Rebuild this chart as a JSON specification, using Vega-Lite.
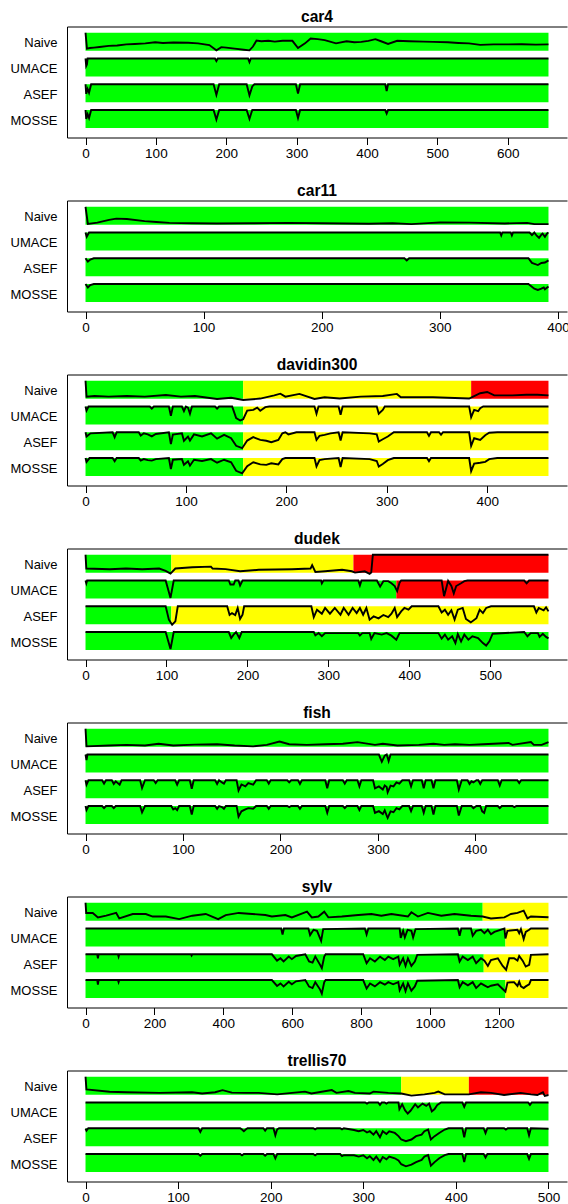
{
"$schema":"https://vega.github.io/schema/vega-lite/v6.json",
"padding":{"left":10,"top":9.5,"right":0,"bottom":0},
"spacing":23,
"config":{"font":"Liberation Sans","view":{"stroke":null},
"axis":{"grid":false,"domainColor":"black","tickColor":"black","labelColor":"black","labelFont":"Liberation Sans","minExtent":0,"labelFlush":false,"labelOverlap":false},
"axisX":{"format":"d"},
"title":{"fontSize":15.6,"fontWeight":"bold","font":"Liberation Sans","offset":0.5,"baseline":"alphabetic","color":"black","anchor":"middle","frame":"group"}},
"datasets":{
"bands":[
{"s":"car4","t":"Naive","a":0,"b":658,"c":"good"},{"s":"car4","t":"UMACE","a":0,"b":658,"c":"good"},{"s":"car4","t":"ASEF","a":0,"b":658,"c":"good"},{"s":"car4","t":"MOSSE","a":0,"b":658,"c":"good"},
{"s":"car11","t":"Naive","a":0,"b":392,"c":"good"},{"s":"car11","t":"UMACE","a":0,"b":392,"c":"good"},{"s":"car11","t":"ASEF","a":0,"b":392,"c":"good"},{"s":"car11","t":"MOSSE","a":0,"b":392,"c":"good"},
{"s":"davidin300","t":"Naive","a":0,"b":157,"c":"good"},{"s":"davidin300","t":"Naive","a":157,"b":384,"c":"fair"},{"s":"davidin300","t":"Naive","a":384,"b":461,"c":"fail"},
{"s":"davidin300","t":"UMACE","a":0,"b":157,"c":"good"},{"s":"davidin300","t":"UMACE","a":157,"b":461,"c":"fair"},
{"s":"davidin300","t":"ASEF","a":0,"b":157,"c":"good"},{"s":"davidin300","t":"ASEF","a":157,"b":461,"c":"fair"},
{"s":"davidin300","t":"MOSSE","a":0,"b":157,"c":"good"},{"s":"davidin300","t":"MOSSE","a":157,"b":461,"c":"fair"},
{"s":"dudek","t":"Naive","a":0,"b":106,"c":"good"},{"s":"dudek","t":"Naive","a":106,"b":331,"c":"fair"},{"s":"dudek","t":"Naive","a":331,"b":572,"c":"fail"},
{"s":"dudek","t":"UMACE","a":0,"b":384,"c":"good"},{"s":"dudek","t":"UMACE","a":384,"b":572,"c":"fail"},
{"s":"dudek","t":"ASEF","a":0,"b":106,"c":"good"},{"s":"dudek","t":"ASEF","a":106,"b":572,"c":"fair"},
{"s":"dudek","t":"MOSSE","a":0,"b":572,"c":"good"},
{"s":"fish","t":"Naive","a":0,"b":475,"c":"good"},{"s":"fish","t":"UMACE","a":0,"b":475,"c":"good"},{"s":"fish","t":"ASEF","a":0,"b":475,"c":"good"},{"s":"fish","t":"MOSSE","a":0,"b":475,"c":"good"},
{"s":"sylv","t":"Naive","a":0,"b":1153,"c":"good"},{"s":"sylv","t":"Naive","a":1153,"b":1344,"c":"fair"},
{"s":"sylv","t":"UMACE","a":0,"b":1219,"c":"good"},{"s":"sylv","t":"UMACE","a":1219,"b":1344,"c":"fair"},
{"s":"sylv","t":"ASEF","a":0,"b":1156,"c":"good"},{"s":"sylv","t":"ASEF","a":1156,"b":1344,"c":"fair"},
{"s":"sylv","t":"MOSSE","a":0,"b":1219,"c":"good"},{"s":"sylv","t":"MOSSE","a":1219,"b":1344,"c":"fair"},
{"s":"trellis70","t":"Naive","a":0,"b":341,"c":"good"},{"s":"trellis70","t":"Naive","a":341,"b":414,"c":"fair"},{"s":"trellis70","t":"Naive","a":414,"b":500,"c":"fail"},
{"s":"trellis70","t":"UMACE","a":0,"b":500,"c":"good"},{"s":"trellis70","t":"ASEF","a":0,"b":500,"c":"good"},{"s":"trellis70","t":"MOSSE","a":0,"b":500,"c":"good"}
],
"car4":[
{"t":"Naive","f":0,"v":1},{"t":"Naive","f":2,"v":0.25},{"t":"Naive","f":6,"v":0.28},{"t":"Naive","f":12,"v":0.3},{"t":"Naive","f":20,"v":0.33},{"t":"Naive","f":33,"v":0.38},{"t":"Naive","f":45,"v":0.4},{"t":"Naive","f":58,"v":0.45},{"t":"Naive","f":70,"v":0.47},{"t":"Naive","f":85,"v":0.5},{"t":"Naive","f":99,"v":0.55},{"t":"Naive","f":110,"v":0.52},{"t":"Naive","f":125,"v":0.54},{"t":"Naive","f":146,"v":0.53},{"t":"Naive","f":160,"v":0.5},{"t":"Naive","f":176,"v":0.42},{"t":"Naive","f":186,"v":0.17},{"t":"Naive","f":193,"v":0.32},{"t":"Naive","f":200,"v":0.3},{"t":"Naive","f":212,"v":0.25},{"t":"Naive","f":225,"v":0.2},{"t":"Naive","f":233,"v":0.17},{"t":"Naive","f":238,"v":0.35},{"t":"Naive","f":243,"v":0.63},{"t":"Naive","f":250,"v":0.6},{"t":"Naive","f":260,"v":0.62},{"t":"Naive","f":269,"v":0.58},{"t":"Naive","f":280,"v":0.62},{"t":"Naive","f":294,"v":0.62},{"t":"Naive","f":302,"v":0.28},{"t":"Naive","f":312,"v":0.5},{"t":"Naive","f":320,"v":0.73},{"t":"Naive","f":330,"v":0.7},{"t":"Naive","f":340,"v":0.65},{"t":"Naive","f":356,"v":0.5},{"t":"Naive","f":371,"v":0.6},{"t":"Naive","f":382,"v":0.55},{"t":"Naive","f":392,"v":0.57},{"t":"Naive","f":402,"v":0.62},{"t":"Naive","f":412,"v":0.7},{"t":"Naive","f":420,"v":0.6},{"t":"Naive","f":430,"v":0.47},{"t":"Naive","f":443,"v":0.62},{"t":"Naive","f":460,"v":0.6},{"t":"Naive","f":480,"v":0.58},{"t":"Naive","f":494,"v":0.57},{"t":"Naive","f":515,"v":0.55},{"t":"Naive","f":530,"v":0.52},{"t":"Naive","f":545,"v":0.5},{"t":"Naive","f":561,"v":0.43},{"t":"Naive","f":580,"v":0.45},{"t":"Naive","f":597,"v":0.45},{"t":"Naive","f":620,"v":0.46},{"t":"Naive","f":640,"v":0.44},{"t":"Naive","f":658,"v":0.45},
{"t":"UMACE","f":0,"v":1},{"t":"UMACE","f":1,"v":0.65},{"t":"UMACE","f":2,"v":0.72},{"t":"UMACE","f":3,"v":1},{"t":"UMACE","f":184,"v":1},{"t":"UMACE","f":186,"v":0.88},{"t":"UMACE","f":188,"v":1},{"t":"UMACE","f":231,"v":1},{"t":"UMACE","f":233,"v":0.83},{"t":"UMACE","f":235,"v":1},{"t":"UMACE","f":658,"v":1},
{"t":"ASEF","f":0,"v":1},{"t":"ASEF","f":1,"v":0.55},{"t":"ASEF","f":3,"v":0.78},{"t":"ASEF","f":5,"v":0.6},{"t":"ASEF","f":8,"v":1},{"t":"ASEF","f":182,"v":1},{"t":"ASEF","f":186,"v":0.5},{"t":"ASEF","f":190,"v":1},{"t":"ASEF","f":229,"v":1},{"t":"ASEF","f":233,"v":0.48},{"t":"ASEF","f":237,"v":0.9},{"t":"ASEF","f":240,"v":1},{"t":"ASEF","f":299,"v":1},{"t":"ASEF","f":302,"v":0.56},{"t":"ASEF","f":305,"v":1},{"t":"ASEF","f":426,"v":1},{"t":"ASEF","f":428,"v":0.68},{"t":"ASEF","f":430,"v":1},{"t":"ASEF","f":658,"v":1},
{"t":"MOSSE","f":0,"v":1},{"t":"MOSSE","f":1,"v":0.58},{"t":"MOSSE","f":3,"v":0.8},{"t":"MOSSE","f":5,"v":0.62},{"t":"MOSSE","f":8,"v":1},{"t":"MOSSE","f":182,"v":1},{"t":"MOSSE","f":186,"v":0.55},{"t":"MOSSE","f":190,"v":1},{"t":"MOSSE","f":229,"v":1},{"t":"MOSSE","f":233,"v":0.58},{"t":"MOSSE","f":237,"v":1},{"t":"MOSSE","f":299,"v":1},{"t":"MOSSE","f":302,"v":0.62},{"t":"MOSSE","f":305,"v":1},{"t":"MOSSE","f":426,"v":1},{"t":"MOSSE","f":428,"v":0.84},{"t":"MOSSE","f":430,"v":1},{"t":"MOSSE","f":658,"v":1}
],
"car11":[
{"t":"Naive","f":0,"v":1},{"t":"Naive","f":2,"v":0.19},{"t":"Naive","f":10,"v":0.25},{"t":"Naive","f":20,"v":0.38},{"t":"Naive","f":26,"v":0.44},{"t":"Naive","f":35,"v":0.42},{"t":"Naive","f":50,"v":0.32},{"t":"Naive","f":60,"v":0.28},{"t":"Naive","f":71,"v":0.24},{"t":"Naive","f":90,"v":0.22},{"t":"Naive","f":111,"v":0.21},{"t":"Naive","f":140,"v":0.22},{"t":"Naive","f":172,"v":0.24},{"t":"Naive","f":200,"v":0.22},{"t":"Naive","f":240,"v":0.2},{"t":"Naive","f":260,"v":0.22},{"t":"Naive","f":276,"v":0.18},{"t":"Naive","f":290,"v":0.23},{"t":"Naive","f":300,"v":0.26},{"t":"Naive","f":325,"v":0.25},{"t":"Naive","f":355,"v":0.21},{"t":"Naive","f":365,"v":0.23},{"t":"Naive","f":374,"v":0.24},{"t":"Naive","f":380,"v":0.18},{"t":"Naive","f":392,"v":0.18},
{"t":"UMACE","f":0,"v":1},{"t":"UMACE","f":1,"v":0.8},{"t":"UMACE","f":3,"v":1},{"t":"UMACE","f":351,"v":1},{"t":"UMACE","f":352,"v":0.86},{"t":"UMACE","f":353,"v":1},{"t":"UMACE","f":360,"v":1},{"t":"UMACE","f":361,"v":0.86},{"t":"UMACE","f":362,"v":1},{"t":"UMACE","f":376,"v":1},{"t":"UMACE","f":378,"v":0.88},{"t":"UMACE","f":380,"v":1},{"t":"UMACE","f":382,"v":0.85},{"t":"UMACE","f":384,"v":0.75},{"t":"UMACE","f":386,"v":0.9},{"t":"UMACE","f":387,"v":0.95},{"t":"UMACE","f":389,"v":0.8},{"t":"UMACE","f":391,"v":0.97},{"t":"UMACE","f":392,"v":1},
{"t":"ASEF","f":0,"v":1},{"t":"ASEF","f":2,"v":0.84},{"t":"ASEF","f":4,"v":0.94},{"t":"ASEF","f":7,"v":1},{"t":"ASEF","f":270,"v":1},{"t":"ASEF","f":272,"v":0.9},{"t":"ASEF","f":274,"v":1},{"t":"ASEF","f":375,"v":1},{"t":"ASEF","f":378,"v":0.78},{"t":"ASEF","f":383,"v":0.68},{"t":"ASEF","f":386,"v":0.78},{"t":"ASEF","f":389,"v":0.8},{"t":"ASEF","f":392,"v":0.9},
{"t":"MOSSE","f":0,"v":1},{"t":"MOSSE","f":2,"v":0.84},{"t":"MOSSE","f":4,"v":0.95},{"t":"MOSSE","f":7,"v":1},{"t":"MOSSE","f":375,"v":1},{"t":"MOSSE","f":380,"v":0.78},{"t":"MOSSE","f":383,"v":0.72},{"t":"MOSSE","f":386,"v":0.78},{"t":"MOSSE","f":388,"v":0.84},{"t":"MOSSE","f":389,"v":0.75},{"t":"MOSSE","f":392,"v":0.88}
],
"davidin300":[
{"t":"Naive","f":0,"v":1},{"t":"Naive","f":1,"v":0.25},{"t":"Naive","f":9,"v":0.28},{"t":"Naive","f":23,"v":0.25},{"t":"Naive","f":41,"v":0.28},{"t":"Naive","f":59,"v":0.25},{"t":"Naive","f":80,"v":0.33},{"t":"Naive","f":95,"v":0.25},{"t":"Naive","f":109,"v":0.28},{"t":"Naive","f":131,"v":0.14},{"t":"Naive","f":145,"v":0.2},{"t":"Naive","f":157,"v":0.09},{"t":"Naive","f":174,"v":0.16},{"t":"Naive","f":188,"v":0.31},{"t":"Naive","f":194,"v":0.39},{"t":"Naive","f":199,"v":0.25},{"t":"Naive","f":213,"v":0.38},{"t":"Naive","f":228,"v":0.14},{"t":"Naive","f":238,"v":0.22},{"t":"Naive","f":253,"v":0.16},{"t":"Naive","f":274,"v":0.25},{"t":"Naive","f":296,"v":0.28},{"t":"Naive","f":310,"v":0.38},{"t":"Naive","f":314,"v":0.22},{"t":"Naive","f":346,"v":0.22},{"t":"Naive","f":382,"v":0.16},{"t":"Naive","f":386,"v":0.25},{"t":"Naive","f":393,"v":0.41},{"t":"Naive","f":400,"v":0.47},{"t":"Naive","f":407,"v":0.31},{"t":"Naive","f":425,"v":0.31},{"t":"Naive","f":439,"v":0.34},{"t":"Naive","f":450,"v":0.34},{"t":"Naive","f":461,"v":0.31},
{"t":"UMACE","f":0,"v":1},{"t":"UMACE","f":1,"v":0.81},{"t":"UMACE","f":3,"v":1},{"t":"UMACE","f":64,"v":1},{"t":"UMACE","f":66,"v":0.9},{"t":"UMACE","f":68,"v":1},{"t":"UMACE","f":83,"v":1},{"t":"UMACE","f":85,"v":0.56},{"t":"UMACE","f":87,"v":1},{"t":"UMACE","f":96,"v":1},{"t":"UMACE","f":98,"v":0.78},{"t":"UMACE","f":100,"v":1},{"t":"UMACE","f":102,"v":0.95},{"t":"UMACE","f":104,"v":0.66},{"t":"UMACE","f":106,"v":1},{"t":"UMACE","f":129,"v":1},{"t":"UMACE","f":131,"v":0.9},{"t":"UMACE","f":133,"v":1},{"t":"UMACE","f":146,"v":1},{"t":"UMACE","f":150,"v":0.45},{"t":"UMACE","f":154,"v":0.34},{"t":"UMACE","f":157,"v":0.4},{"t":"UMACE","f":161,"v":0.81},{"t":"UMACE","f":167,"v":0.84},{"t":"UMACE","f":171,"v":0.95},{"t":"UMACE","f":174,"v":0.8},{"t":"UMACE","f":179,"v":0.97},{"t":"UMACE","f":183,"v":1},{"t":"UMACE","f":228,"v":1},{"t":"UMACE","f":230,"v":0.66},{"t":"UMACE","f":232,"v":1},{"t":"UMACE","f":252,"v":1},{"t":"UMACE","f":254,"v":0.61},{"t":"UMACE","f":256,"v":1},{"t":"UMACE","f":290,"v":1},{"t":"UMACE","f":292,"v":0.66},{"t":"UMACE","f":296,"v":0.84},{"t":"UMACE","f":298,"v":1},{"t":"UMACE","f":382,"v":1},{"t":"UMACE","f":384,"v":0.5},{"t":"UMACE","f":387,"v":0.84},{"t":"UMACE","f":391,"v":0.78},{"t":"UMACE","f":393,"v":0.92},{"t":"UMACE","f":396,"v":1},{"t":"UMACE","f":461,"v":1},
{"t":"ASEF","f":0,"v":1},{"t":"ASEF","f":1,"v":0.8},{"t":"ASEF","f":5,"v":0.95},{"t":"ASEF","f":27,"v":1},{"t":"ASEF","f":29,"v":0.77},{"t":"ASEF","f":31,"v":1},{"t":"ASEF","f":53,"v":1},{"t":"ASEF","f":55,"v":0.84},{"t":"ASEF","f":58,"v":0.95},{"t":"ASEF","f":62,"v":0.9},{"t":"ASEF","f":66,"v":0.81},{"t":"ASEF","f":70,"v":0.92},{"t":"ASEF","f":83,"v":1},{"t":"ASEF","f":85,"v":0.44},{"t":"ASEF","f":87,"v":0.89},{"t":"ASEF","f":96,"v":0.95},{"t":"ASEF","f":98,"v":0.6},{"t":"ASEF","f":102,"v":0.8},{"t":"ASEF","f":104,"v":0.61},{"t":"ASEF","f":108,"v":0.9},{"t":"ASEF","f":116,"v":0.8},{"t":"ASEF","f":125,"v":0.95},{"t":"ASEF","f":131,"v":0.7},{"t":"ASEF","f":138,"v":0.88},{"t":"ASEF","f":145,"v":0.72},{"t":"ASEF","f":150,"v":0.36},{"t":"ASEF","f":156,"v":0.25},{"t":"ASEF","f":161,"v":0.61},{"t":"ASEF","f":167,"v":0.77},{"t":"ASEF","f":174,"v":0.64},{"t":"ASEF","f":180,"v":0.6},{"t":"ASEF","f":185,"v":0.53},{"t":"ASEF","f":192,"v":0.64},{"t":"ASEF","f":196,"v":0.95},{"t":"ASEF","f":199,"v":1},{"t":"ASEF","f":202,"v":0.9},{"t":"ASEF","f":210,"v":1},{"t":"ASEF","f":228,"v":1},{"t":"ASEF","f":230,"v":0.64},{"t":"ASEF","f":233,"v":0.83},{"t":"ASEF","f":238,"v":0.88},{"t":"ASEF","f":244,"v":0.95},{"t":"ASEF","f":252,"v":1},{"t":"ASEF","f":254,"v":0.61},{"t":"ASEF","f":256,"v":1},{"t":"ASEF","f":283,"v":0.95},{"t":"ASEF","f":290,"v":0.9},{"t":"ASEF","f":292,"v":0.56},{"t":"ASEF","f":296,"v":0.67},{"t":"ASEF","f":301,"v":0.8},{"t":"ASEF","f":307,"v":1},{"t":"ASEF","f":340,"v":1},{"t":"ASEF","f":342,"v":0.83},{"t":"ASEF","f":344,"v":1},{"t":"ASEF","f":352,"v":1},{"t":"ASEF","f":354,"v":0.88},{"t":"ASEF","f":356,"v":1},{"t":"ASEF","f":382,"v":1},{"t":"ASEF","f":384,"v":0.36},{"t":"ASEF","f":387,"v":0.72},{"t":"ASEF","f":393,"v":0.64},{"t":"ASEF","f":398,"v":0.86},{"t":"ASEF","f":402,"v":0.98},{"t":"ASEF","f":410,"v":1},{"t":"ASEF","f":461,"v":1},
{"t":"MOSSE","f":0,"v":1},{"t":"MOSSE","f":1,"v":0.82},{"t":"MOSSE","f":4,"v":1},{"t":"MOSSE","f":27,"v":1},{"t":"MOSSE","f":29,"v":0.85},{"t":"MOSSE","f":31,"v":1},{"t":"MOSSE","f":53,"v":1},{"t":"MOSSE","f":55,"v":0.88},{"t":"MOSSE","f":58,"v":0.95},{"t":"MOSSE","f":62,"v":0.9},{"t":"MOSSE","f":66,"v":0.88},{"t":"MOSSE","f":70,"v":0.95},{"t":"MOSSE","f":83,"v":1},{"t":"MOSSE","f":85,"v":0.48},{"t":"MOSSE","f":87,"v":0.92},{"t":"MOSSE","f":96,"v":0.95},{"t":"MOSSE","f":98,"v":0.68},{"t":"MOSSE","f":102,"v":0.85},{"t":"MOSSE","f":104,"v":0.64},{"t":"MOSSE","f":108,"v":0.92},{"t":"MOSSE","f":116,"v":0.86},{"t":"MOSSE","f":125,"v":0.95},{"t":"MOSSE","f":131,"v":0.78},{"t":"MOSSE","f":138,"v":0.92},{"t":"MOSSE","f":145,"v":0.8},{"t":"MOSSE","f":150,"v":0.4},{"t":"MOSSE","f":156,"v":0.28},{"t":"MOSSE","f":161,"v":0.62},{"t":"MOSSE","f":167,"v":0.8},{"t":"MOSSE","f":174,"v":0.7},{"t":"MOSSE","f":180,"v":0.68},{"t":"MOSSE","f":185,"v":0.75},{"t":"MOSSE","f":192,"v":0.7},{"t":"MOSSE","f":196,"v":0.95},{"t":"MOSSE","f":199,"v":1},{"t":"MOSSE","f":228,"v":1},{"t":"MOSSE","f":230,"v":0.6},{"t":"MOSSE","f":233,"v":0.9},{"t":"MOSSE","f":238,"v":0.95},{"t":"MOSSE","f":252,"v":1},{"t":"MOSSE","f":254,"v":0.58},{"t":"MOSSE","f":256,"v":1},{"t":"MOSSE","f":283,"v":0.95},{"t":"MOSSE","f":290,"v":0.86},{"t":"MOSSE","f":292,"v":0.6},{"t":"MOSSE","f":296,"v":0.72},{"t":"MOSSE","f":301,"v":0.9},{"t":"MOSSE","f":307,"v":1},{"t":"MOSSE","f":340,"v":1},{"t":"MOSSE","f":342,"v":0.85},{"t":"MOSSE","f":344,"v":1},{"t":"MOSSE","f":382,"v":1},{"t":"MOSSE","f":384,"v":0.38},{"t":"MOSSE","f":387,"v":0.74},{"t":"MOSSE","f":393,"v":0.78},{"t":"MOSSE","f":398,"v":0.82},{"t":"MOSSE","f":402,"v":0.95},{"t":"MOSSE","f":410,"v":1},{"t":"MOSSE","f":461,"v":1}
],
"dudek":[
{"t":"Naive","f":0,"v":1},{"t":"Naive","f":1,"v":0.35},{"t":"Naive","f":30,"v":0.32},{"t":"Naive","f":50,"v":0.35},{"t":"Naive","f":70,"v":0.32},{"t":"Naive","f":91,"v":0.35},{"t":"Naive","f":99,"v":0.24},{"t":"Naive","f":105,"v":0.11},{"t":"Naive","f":111,"v":0.35},{"t":"Naive","f":132,"v":0.41},{"t":"Naive","f":155,"v":0.44},{"t":"Naive","f":157,"v":0.35},{"t":"Naive","f":173,"v":0.32},{"t":"Naive","f":191,"v":0.22},{"t":"Naive","f":214,"v":0.29},{"t":"Naive","f":255,"v":0.32},{"t":"Naive","f":278,"v":0.35},{"t":"Naive","f":280,"v":0.51},{"t":"Naive","f":284,"v":0.19},{"t":"Naive","f":296,"v":0.22},{"t":"Naive","f":317,"v":0.29},{"t":"Naive","f":329,"v":0.22},{"t":"Naive","f":333,"v":0.16},{"t":"Naive","f":345,"v":0.22},{"t":"Naive","f":351,"v":0.1},{"t":"Naive","f":353,"v":0.16},{"t":"Naive","f":355,"v":1},{"t":"Naive","f":572,"v":1},
{"t":"UMACE","f":0,"v":1},{"t":"UMACE","f":1,"v":0.87},{"t":"UMACE","f":2,"v":1},{"t":"UMACE","f":99,"v":1},{"t":"UMACE","f":105,"v":0.18},{"t":"UMACE","f":109,"v":1},{"t":"UMACE","f":177,"v":1},{"t":"UMACE","f":179,"v":0.81},{"t":"UMACE","f":183,"v":0.81},{"t":"UMACE","f":185,"v":1},{"t":"UMACE","f":189,"v":1},{"t":"UMACE","f":191,"v":0.77},{"t":"UMACE","f":194,"v":1},{"t":"UMACE","f":291,"v":1},{"t":"UMACE","f":292,"v":0.87},{"t":"UMACE","f":294,"v":1},{"t":"UMACE","f":337,"v":1},{"t":"UMACE","f":339,"v":0.77},{"t":"UMACE","f":341,"v":1},{"t":"UMACE","f":360,"v":1},{"t":"UMACE","f":364,"v":0.71},{"t":"UMACE","f":368,"v":0.97},{"t":"UMACE","f":374,"v":0.97},{"t":"UMACE","f":378,"v":0.87},{"t":"UMACE","f":382,"v":0.74},{"t":"UMACE","f":385,"v":0.5},{"t":"UMACE","f":388,"v":0.9},{"t":"UMACE","f":390,"v":1},{"t":"UMACE","f":440,"v":1},{"t":"UMACE","f":443,"v":0.26},{"t":"UMACE","f":448,"v":0.98},{"t":"UMACE","f":452,"v":0.74},{"t":"UMACE","f":455,"v":0.39},{"t":"UMACE","f":458,"v":0.74},{"t":"UMACE","f":464,"v":0.87},{"t":"UMACE","f":468,"v":0.97},{"t":"UMACE","f":472,"v":1},{"t":"UMACE","f":542,"v":1},{"t":"UMACE","f":545,"v":0.87},{"t":"UMACE","f":548,"v":1},{"t":"UMACE","f":572,"v":1},
{"t":"ASEF","f":0,"v":1},{"t":"ASEF","f":99,"v":1},{"t":"ASEF","f":103,"v":0.37},{"t":"ASEF","f":107,"v":0.13},{"t":"ASEF","f":111,"v":0.29},{"t":"ASEF","f":114,"v":1},{"t":"ASEF","f":175,"v":1},{"t":"ASEF","f":178,"v":0.59},{"t":"ASEF","f":181,"v":0.68},{"t":"ASEF","f":185,"v":0.59},{"t":"ASEF","f":188,"v":0.92},{"t":"ASEF","f":191,"v":0.4},{"t":"ASEF","f":194,"v":0.6},{"t":"ASEF","f":196,"v":1},{"t":"ASEF","f":279,"v":1},{"t":"ASEF","f":282,"v":0.49},{"t":"ASEF","f":286,"v":0.84},{"t":"ASEF","f":292,"v":0.65},{"t":"ASEF","f":296,"v":0.92},{"t":"ASEF","f":302,"v":0.65},{"t":"ASEF","f":308,"v":0.92},{"t":"ASEF","f":315,"v":0.6},{"t":"ASEF","f":319,"v":0.92},{"t":"ASEF","f":325,"v":0.6},{"t":"ASEF","f":330,"v":0.92},{"t":"ASEF","f":335,"v":0.68},{"t":"ASEF","f":339,"v":0.92},{"t":"ASEF","f":343,"v":0.6},{"t":"ASEF","f":347,"v":0.92},{"t":"ASEF","f":351,"v":0.37},{"t":"ASEF","f":356,"v":0.52},{"t":"ASEF","f":362,"v":0.43},{"t":"ASEF","f":368,"v":0.59},{"t":"ASEF","f":374,"v":0.49},{"t":"ASEF","f":378,"v":0.65},{"t":"ASEF","f":382,"v":0.92},{"t":"ASEF","f":385,"v":0.49},{"t":"ASEF","f":390,"v":0.76},{"t":"ASEF","f":394,"v":0.92},{"t":"ASEF","f":399,"v":0.84},{"t":"ASEF","f":403,"v":1},{"t":"ASEF","f":436,"v":1},{"t":"ASEF","f":440,"v":0.71},{"t":"ASEF","f":444,"v":0.84},{"t":"ASEF","f":448,"v":0.6},{"t":"ASEF","f":452,"v":0.81},{"t":"ASEF","f":456,"v":0.37},{"t":"ASEF","f":460,"v":0.84},{"t":"ASEF","f":466,"v":0.92},{"t":"ASEF","f":470,"v":0.4},{"t":"ASEF","f":476,"v":0.24},{"t":"ASEF","f":483,"v":0.44},{"t":"ASEF","f":487,"v":0.84},{"t":"ASEF","f":491,"v":0.68},{"t":"ASEF","f":495,"v":0.92},{"t":"ASEF","f":501,"v":1},{"t":"ASEF","f":554,"v":1},{"t":"ASEF","f":557,"v":0.71},{"t":"ASEF","f":560,"v":0.92},{"t":"ASEF","f":566,"v":0.81},{"t":"ASEF","f":569,"v":0.95},{"t":"ASEF","f":572,"v":0.76},
{"t":"MOSSE","f":0,"v":1},{"t":"MOSSE","f":99,"v":1},{"t":"MOSSE","f":105,"v":0.2},{"t":"MOSSE","f":109,"v":1},{"t":"MOSSE","f":177,"v":1},{"t":"MOSSE","f":180,"v":0.72},{"t":"MOSSE","f":183,"v":0.88},{"t":"MOSSE","f":186,"v":1},{"t":"MOSSE","f":190,"v":0.72},{"t":"MOSSE","f":193,"v":1},{"t":"MOSSE","f":282,"v":1},{"t":"MOSSE","f":284,"v":0.84},{"t":"MOSSE","f":288,"v":0.95},{"t":"MOSSE","f":292,"v":0.8},{"t":"MOSSE","f":296,"v":0.95},{"t":"MOSSE","f":337,"v":0.95},{"t":"MOSSE","f":339,"v":0.84},{"t":"MOSSE","f":342,"v":0.95},{"t":"MOSSE","f":351,"v":0.95},{"t":"MOSSE","f":353,"v":0.67},{"t":"MOSSE","f":357,"v":0.95},{"t":"MOSSE","f":366,"v":0.88},{"t":"MOSSE","f":372,"v":0.95},{"t":"MOSSE","f":378,"v":0.83},{"t":"MOSSE","f":384,"v":0.64},{"t":"MOSSE","f":388,"v":0.95},{"t":"MOSSE","f":436,"v":0.95},{"t":"MOSSE","f":440,"v":0.69},{"t":"MOSSE","f":444,"v":0.88},{"t":"MOSSE","f":448,"v":0.64},{"t":"MOSSE","f":453,"v":0.8},{"t":"MOSSE","f":457,"v":0.48},{"t":"MOSSE","f":460,"v":0.9},{"t":"MOSSE","f":464,"v":0.56},{"t":"MOSSE","f":468,"v":0.88},{"t":"MOSSE","f":473,"v":0.64},{"t":"MOSSE","f":478,"v":0.8},{"t":"MOSSE","f":485,"v":0.72},{"t":"MOSSE","f":491,"v":0.48},{"t":"MOSSE","f":495,"v":0.36},{"t":"MOSSE","f":499,"v":0.56},{"t":"MOSSE","f":503,"v":0.92},{"t":"MOSSE","f":542,"v":1},{"t":"MOSSE","f":546,"v":0.8},{"t":"MOSSE","f":550,"v":0.95},{"t":"MOSSE","f":559,"v":0.95},{"t":"MOSSE","f":561,"v":0.77},{"t":"MOSSE","f":565,"v":0.92},{"t":"MOSSE","f":569,"v":0.77},{"t":"MOSSE","f":572,"v":0.7}
],
"fish":[
{"t":"Naive","f":0,"v":1},{"t":"Naive","f":1,"v":0.17},{"t":"Naive","f":24,"v":0.21},{"t":"Naive","f":42,"v":0.24},{"t":"Naive","f":61,"v":0.21},{"t":"Naive","f":75,"v":0.29},{"t":"Naive","f":90,"v":0.21},{"t":"Naive","f":112,"v":0.25},{"t":"Naive","f":135,"v":0.27},{"t":"Naive","f":153,"v":0.21},{"t":"Naive","f":172,"v":0.17},{"t":"Naive","f":186,"v":0.24},{"t":"Naive","f":199,"v":0.4},{"t":"Naive","f":209,"v":0.27},{"t":"Naive","f":227,"v":0.24},{"t":"Naive","f":246,"v":0.27},{"t":"Naive","f":264,"v":0.29},{"t":"Naive","f":279,"v":0.37},{"t":"Naive","f":297,"v":0.24},{"t":"Naive","f":305,"v":0.29},{"t":"Naive","f":320,"v":0.21},{"t":"Naive","f":342,"v":0.24},{"t":"Naive","f":357,"v":0.29},{"t":"Naive","f":368,"v":0.24},{"t":"Naive","f":379,"v":0.27},{"t":"Naive","f":394,"v":0.24},{"t":"Naive","f":408,"v":0.27},{"t":"Naive","f":434,"v":0.33},{"t":"Naive","f":438,"v":0.24},{"t":"Naive","f":457,"v":0.37},{"t":"Naive","f":460,"v":0.24},{"t":"Naive","f":468,"v":0.24},{"t":"Naive","f":475,"v":0.37},
{"t":"UMACE","f":0,"v":1},{"t":"UMACE","f":1,"v":0.74},{"t":"UMACE","f":2,"v":1},{"t":"UMACE","f":301,"v":1},{"t":"UMACE","f":304,"v":0.66},{"t":"UMACE","f":307,"v":0.95},{"t":"UMACE","f":309,"v":1},{"t":"UMACE","f":311,"v":0.69},{"t":"UMACE","f":313,"v":1},{"t":"UMACE","f":475,"v":1},
{"t":"ASEF","f":0,"v":1},{"t":"ASEF","f":1,"v":0.79},{"t":"ASEF","f":3,"v":1},{"t":"ASEF","f":17,"v":1},{"t":"ASEF","f":19,"v":0.84},{"t":"ASEF","f":21,"v":1},{"t":"ASEF","f":27,"v":1},{"t":"ASEF","f":29,"v":0.83},{"t":"ASEF","f":31,"v":0.95},{"t":"ASEF","f":35,"v":0.79},{"t":"ASEF","f":37,"v":1},{"t":"ASEF","f":56,"v":1},{"t":"ASEF","f":58,"v":0.63},{"t":"ASEF","f":61,"v":1},{"t":"ASEF","f":70,"v":1},{"t":"ASEF","f":72,"v":0.87},{"t":"ASEF","f":74,"v":1},{"t":"ASEF","f":92,"v":1},{"t":"ASEF","f":94,"v":0.79},{"t":"ASEF","f":96,"v":1},{"t":"ASEF","f":107,"v":1},{"t":"ASEF","f":109,"v":0.6},{"t":"ASEF","f":111,"v":1},{"t":"ASEF","f":133,"v":1},{"t":"ASEF","f":135,"v":0.83},{"t":"ASEF","f":137,"v":1},{"t":"ASEF","f":140,"v":0.9},{"t":"ASEF","f":142,"v":0.84},{"t":"ASEF","f":144,"v":1},{"t":"ASEF","f":155,"v":1},{"t":"ASEF","f":157,"v":0.52},{"t":"ASEF","f":160,"v":0.8},{"t":"ASEF","f":164,"v":0.71},{"t":"ASEF","f":167,"v":0.87},{"t":"ASEF","f":172,"v":0.79},{"t":"ASEF","f":175,"v":1},{"t":"ASEF","f":186,"v":1},{"t":"ASEF","f":188,"v":0.84},{"t":"ASEF","f":190,"v":1},{"t":"ASEF","f":207,"v":1},{"t":"ASEF","f":209,"v":0.9},{"t":"ASEF","f":211,"v":1},{"t":"ASEF","f":218,"v":1},{"t":"ASEF","f":220,"v":0.83},{"t":"ASEF","f":222,"v":1},{"t":"ASEF","f":246,"v":1},{"t":"ASEF","f":248,"v":0.62},{"t":"ASEF","f":250,"v":1},{"t":"ASEF","f":264,"v":1},{"t":"ASEF","f":266,"v":0.84},{"t":"ASEF","f":268,"v":1},{"t":"ASEF","f":279,"v":1},{"t":"ASEF","f":281,"v":0.71},{"t":"ASEF","f":283,"v":1},{"t":"ASEF","f":295,"v":1},{"t":"ASEF","f":297,"v":0.62},{"t":"ASEF","f":301,"v":0.71},{"t":"ASEF","f":305,"v":0.56},{"t":"ASEF","f":307,"v":0.75},{"t":"ASEF","f":309,"v":0.68},{"t":"ASEF","f":310,"v":0.43},{"t":"ASEF","f":313,"v":0.75},{"t":"ASEF","f":316,"v":0.71},{"t":"ASEF","f":319,"v":0.9},{"t":"ASEF","f":322,"v":0.84},{"t":"ASEF","f":325,"v":1},{"t":"ASEF","f":332,"v":1},{"t":"ASEF","f":334,"v":0.71},{"t":"ASEF","f":336,"v":1},{"t":"ASEF","f":345,"v":1},{"t":"ASEF","f":347,"v":0.62},{"t":"ASEF","f":349,"v":1},{"t":"ASEF","f":355,"v":1},{"t":"ASEF","f":357,"v":0.62},{"t":"ASEF","f":359,"v":1},{"t":"ASEF","f":381,"v":1},{"t":"ASEF","f":383,"v":0.56},{"t":"ASEF","f":386,"v":1},{"t":"ASEF","f":392,"v":1},{"t":"ASEF","f":394,"v":0.83},{"t":"ASEF","f":396,"v":0.95},{"t":"ASEF","f":398,"v":0.9},{"t":"ASEF","f":401,"v":1},{"t":"ASEF","f":403,"v":1},{"t":"ASEF","f":405,"v":0.83},{"t":"ASEF","f":407,"v":1},{"t":"ASEF","f":423,"v":1},{"t":"ASEF","f":425,"v":0.75},{"t":"ASEF","f":427,"v":1},{"t":"ASEF","f":443,"v":1},{"t":"ASEF","f":445,"v":0.87},{"t":"ASEF","f":447,"v":1},{"t":"ASEF","f":475,"v":1},
{"t":"MOSSE","f":0,"v":1},{"t":"MOSSE","f":1,"v":0.81},{"t":"MOSSE","f":3,"v":1},{"t":"MOSSE","f":17,"v":1},{"t":"MOSSE","f":19,"v":0.9},{"t":"MOSSE","f":21,"v":1},{"t":"MOSSE","f":27,"v":1},{"t":"MOSSE","f":29,"v":0.9},{"t":"MOSSE","f":31,"v":1},{"t":"MOSSE","f":56,"v":1},{"t":"MOSSE","f":58,"v":0.7},{"t":"MOSSE","f":61,"v":1},{"t":"MOSSE","f":88,"v":1},{"t":"MOSSE","f":90,"v":0.84},{"t":"MOSSE","f":92,"v":0.9},{"t":"MOSSE","f":94,"v":0.81},{"t":"MOSSE","f":96,"v":1},{"t":"MOSSE","f":107,"v":1},{"t":"MOSSE","f":109,"v":0.6},{"t":"MOSSE","f":111,"v":1},{"t":"MOSSE","f":133,"v":1},{"t":"MOSSE","f":135,"v":0.87},{"t":"MOSSE","f":137,"v":1},{"t":"MOSSE","f":140,"v":0.95},{"t":"MOSSE","f":142,"v":0.87},{"t":"MOSSE","f":144,"v":1},{"t":"MOSSE","f":155,"v":1},{"t":"MOSSE","f":157,"v":0.5},{"t":"MOSSE","f":160,"v":0.75},{"t":"MOSSE","f":164,"v":0.84},{"t":"MOSSE","f":167,"v":0.9},{"t":"MOSSE","f":172,"v":0.87},{"t":"MOSSE","f":175,"v":1},{"t":"MOSSE","f":186,"v":1},{"t":"MOSSE","f":188,"v":0.87},{"t":"MOSSE","f":190,"v":1},{"t":"MOSSE","f":207,"v":1},{"t":"MOSSE","f":209,"v":0.95},{"t":"MOSSE","f":211,"v":1},{"t":"MOSSE","f":218,"v":1},{"t":"MOSSE","f":220,"v":0.87},{"t":"MOSSE","f":222,"v":1},{"t":"MOSSE","f":246,"v":1},{"t":"MOSSE","f":248,"v":0.68},{"t":"MOSSE","f":250,"v":1},{"t":"MOSSE","f":264,"v":1},{"t":"MOSSE","f":266,"v":0.9},{"t":"MOSSE","f":268,"v":1},{"t":"MOSSE","f":279,"v":1},{"t":"MOSSE","f":281,"v":0.81},{"t":"MOSSE","f":283,"v":1},{"t":"MOSSE","f":295,"v":1},{"t":"MOSSE","f":297,"v":0.68},{"t":"MOSSE","f":301,"v":0.76},{"t":"MOSSE","f":305,"v":0.62},{"t":"MOSSE","f":307,"v":0.8},{"t":"MOSSE","f":309,"v":0.55},{"t":"MOSSE","f":310,"v":0.44},{"t":"MOSSE","f":313,"v":0.75},{"t":"MOSSE","f":316,"v":0.71},{"t":"MOSSE","f":319,"v":0.9},{"t":"MOSSE","f":322,"v":0.84},{"t":"MOSSE","f":325,"v":1},{"t":"MOSSE","f":332,"v":1},{"t":"MOSSE","f":334,"v":0.76},{"t":"MOSSE","f":336,"v":1},{"t":"MOSSE","f":345,"v":1},{"t":"MOSSE","f":347,"v":0.68},{"t":"MOSSE","f":349,"v":1},{"t":"MOSSE","f":355,"v":1},{"t":"MOSSE","f":357,"v":0.6},{"t":"MOSSE","f":359,"v":1},{"t":"MOSSE","f":381,"v":1},{"t":"MOSSE","f":383,"v":0.55},{"t":"MOSSE","f":386,"v":1},{"t":"MOSSE","f":396,"v":1},{"t":"MOSSE","f":398,"v":0.9},{"t":"MOSSE","f":401,"v":1},{"t":"MOSSE","f":405,"v":1},{"t":"MOSSE","f":407,"v":0.75},{"t":"MOSSE","f":409,"v":0.68},{"t":"MOSSE","f":411,"v":1},{"t":"MOSSE","f":423,"v":1},{"t":"MOSSE","f":425,"v":0.9},{"t":"MOSSE","f":427,"v":1},{"t":"MOSSE","f":438,"v":1},{"t":"MOSSE","f":440,"v":0.95},{"t":"MOSSE","f":442,"v":1},{"t":"MOSSE","f":475,"v":1}
],
"sylv":[
{"t":"Naive","f":0,"v":1},{"t":"Naive","f":2,"v":0.52},{"t":"Naive","f":21,"v":0.52},{"t":"Naive","f":36,"v":0.31},{"t":"Naive","f":60,"v":0.39},{"t":"Naive","f":89,"v":0.52},{"t":"Naive","f":98,"v":0.26},{"t":"Naive","f":137,"v":0.47},{"t":"Naive","f":175,"v":0.47},{"t":"Naive","f":195,"v":0.35},{"t":"Naive","f":233,"v":0.35},{"t":"Naive","f":272,"v":0.23},{"t":"Naive","f":310,"v":0.39},{"t":"Naive","f":349,"v":0.47},{"t":"Naive","f":385,"v":0.23},{"t":"Naive","f":407,"v":0.42},{"t":"Naive","f":445,"v":0.52},{"t":"Naive","f":484,"v":0.47},{"t":"Naive","f":522,"v":0.42},{"t":"Naive","f":541,"v":0.35},{"t":"Naive","f":580,"v":0.42},{"t":"Naive","f":599,"v":0.31},{"t":"Naive","f":643,"v":0.58},{"t":"Naive","f":657,"v":0.31},{"t":"Naive","f":676,"v":0.35},{"t":"Naive","f":693,"v":0.58},{"t":"Naive","f":705,"v":0.31},{"t":"Naive","f":744,"v":0.35},{"t":"Naive","f":792,"v":0.42},{"t":"Naive","f":830,"v":0.47},{"t":"Naive","f":859,"v":0.39},{"t":"Naive","f":888,"v":0.47},{"t":"Naive","f":936,"v":0.35},{"t":"Naive","f":946,"v":0.55},{"t":"Naive","f":965,"v":0.35},{"t":"Naive","f":994,"v":0.52},{"t":"Naive","f":1033,"v":0.39},{"t":"Naive","f":1071,"v":0.47},{"t":"Naive","f":1119,"v":0.39},{"t":"Naive","f":1153,"v":0.35},{"t":"Naive","f":1177,"v":0.26},{"t":"Naive","f":1216,"v":0.31},{"t":"Naive","f":1235,"v":0.47},{"t":"Naive","f":1254,"v":0.52},{"t":"Naive","f":1272,"v":0.63},{"t":"Naive","f":1283,"v":0.26},{"t":"Naive","f":1293,"v":0.35},{"t":"Naive","f":1344,"v":0.32},
{"t":"UMACE","f":0,"v":1},{"t":"UMACE","f":568,"v":1},{"t":"UMACE","f":572,"v":0.72},{"t":"UMACE","f":576,"v":1},{"t":"UMACE","f":647,"v":1},{"t":"UMACE","f":652,"v":0.69},{"t":"UMACE","f":662,"v":0.94},{"t":"UMACE","f":672,"v":0.89},{"t":"UMACE","f":684,"v":0.42},{"t":"UMACE","f":690,"v":0.97},{"t":"UMACE","f":811,"v":1},{"t":"UMACE","f":816,"v":0.72},{"t":"UMACE","f":821,"v":1},{"t":"UMACE","f":912,"v":1},{"t":"UMACE","f":915,"v":0.56},{"t":"UMACE","f":922,"v":0.89},{"t":"UMACE","f":927,"v":0.58},{"t":"UMACE","f":935,"v":0.94},{"t":"UMACE","f":946,"v":0.89},{"t":"UMACE","f":951,"v":0.58},{"t":"UMACE","f":958,"v":0.97},{"t":"UMACE","f":1081,"v":1},{"t":"UMACE","f":1086,"v":0.66},{"t":"UMACE","f":1091,"v":1},{"t":"UMACE","f":1119,"v":1},{"t":"UMACE","f":1124,"v":0.66},{"t":"UMACE","f":1134,"v":0.89},{"t":"UMACE","f":1148,"v":0.94},{"t":"UMACE","f":1158,"v":0.78},{"t":"UMACE","f":1168,"v":0.94},{"t":"UMACE","f":1177,"v":0.73},{"t":"UMACE","f":1187,"v":0.84},{"t":"UMACE","f":1216,"v":1},{"t":"UMACE","f":1219,"v":0.53},{"t":"UMACE","f":1225,"v":0.89},{"t":"UMACE","f":1254,"v":0.94},{"t":"UMACE","f":1259,"v":0.78},{"t":"UMACE","f":1264,"v":0.97},{"t":"UMACE","f":1272,"v":0.5},{"t":"UMACE","f":1278,"v":0.84},{"t":"UMACE","f":1288,"v":0.94},{"t":"UMACE","f":1293,"v":1},{"t":"UMACE","f":1344,"v":1},
{"t":"ASEF","f":0,"v":1},{"t":"ASEF","f":34,"v":1},{"t":"ASEF","f":36,"v":0.81},{"t":"ASEF","f":38,"v":1},{"t":"ASEF","f":94,"v":1},{"t":"ASEF","f":96,"v":0.89},{"t":"ASEF","f":98,"v":1},{"t":"ASEF","f":306,"v":1},{"t":"ASEF","f":308,"v":0.94},{"t":"ASEF","f":310,"v":1},{"t":"ASEF","f":541,"v":1},{"t":"ASEF","f":556,"v":0.7},{"t":"ASEF","f":566,"v":0.81},{"t":"ASEF","f":575,"v":0.66},{"t":"ASEF","f":590,"v":0.89},{"t":"ASEF","f":599,"v":0.77},{"t":"ASEF","f":611,"v":0.92},{"t":"ASEF","f":638,"v":1},{"t":"ASEF","f":649,"v":0.66},{"t":"ASEF","f":659,"v":0.61},{"t":"ASEF","f":667,"v":0.89},{"t":"ASEF","f":681,"v":0.5},{"t":"ASEF","f":686,"v":0.34},{"t":"ASEF","f":693,"v":0.89},{"t":"ASEF","f":697,"v":1},{"t":"ASEF","f":806,"v":1},{"t":"ASEF","f":816,"v":0.58},{"t":"ASEF","f":826,"v":0.81},{"t":"ASEF","f":840,"v":0.66},{"t":"ASEF","f":855,"v":0.89},{"t":"ASEF","f":869,"v":0.73},{"t":"ASEF","f":879,"v":0.89},{"t":"ASEF","f":893,"v":0.77},{"t":"ASEF","f":908,"v":0.89},{"t":"ASEF","f":912,"v":0.5},{"t":"ASEF","f":922,"v":0.81},{"t":"ASEF","f":929,"v":0.45},{"t":"ASEF","f":936,"v":0.81},{"t":"ASEF","f":946,"v":0.45},{"t":"ASEF","f":956,"v":0.66},{"t":"ASEF","f":963,"v":0.97},{"t":"ASEF","f":1081,"v":1},{"t":"ASEF","f":1086,"v":0.66},{"t":"ASEF","f":1095,"v":0.89},{"t":"ASEF","f":1110,"v":0.73},{"t":"ASEF","f":1124,"v":0.89},{"t":"ASEF","f":1134,"v":0.58},{"t":"ASEF","f":1148,"v":0.81},{"t":"ASEF","f":1158,"v":0.7},{"t":"ASEF","f":1168,"v":0.45},{"t":"ASEF","f":1177,"v":0.73},{"t":"ASEF","f":1197,"v":0.81},{"t":"ASEF","f":1211,"v":0.45},{"t":"ASEF","f":1221,"v":0.27},{"t":"ASEF","f":1230,"v":0.81},{"t":"ASEF","f":1244,"v":0.81},{"t":"ASEF","f":1254,"v":0.7},{"t":"ASEF","f":1259,"v":0.92},{"t":"ASEF","f":1269,"v":0.7},{"t":"ASEF","f":1278,"v":0.42},{"t":"ASEF","f":1288,"v":0.5},{"t":"ASEF","f":1293,"v":0.97},{"t":"ASEF","f":1344,"v":1},
{"t":"MOSSE","f":0,"v":1},{"t":"MOSSE","f":34,"v":1},{"t":"MOSSE","f":36,"v":0.78},{"t":"MOSSE","f":38,"v":1},{"t":"MOSSE","f":94,"v":1},{"t":"MOSSE","f":96,"v":0.9},{"t":"MOSSE","f":98,"v":1},{"t":"MOSSE","f":541,"v":1},{"t":"MOSSE","f":556,"v":0.72},{"t":"MOSSE","f":566,"v":0.84},{"t":"MOSSE","f":575,"v":0.7},{"t":"MOSSE","f":590,"v":0.92},{"t":"MOSSE","f":599,"v":0.8},{"t":"MOSSE","f":611,"v":0.94},{"t":"MOSSE","f":638,"v":1},{"t":"MOSSE","f":649,"v":0.69},{"t":"MOSSE","f":659,"v":0.62},{"t":"MOSSE","f":667,"v":0.9},{"t":"MOSSE","f":681,"v":0.55},{"t":"MOSSE","f":686,"v":0.36},{"t":"MOSSE","f":693,"v":0.9},{"t":"MOSSE","f":697,"v":1},{"t":"MOSSE","f":806,"v":1},{"t":"MOSSE","f":816,"v":0.6},{"t":"MOSSE","f":826,"v":0.84},{"t":"MOSSE","f":840,"v":0.7},{"t":"MOSSE","f":855,"v":0.9},{"t":"MOSSE","f":869,"v":0.78},{"t":"MOSSE","f":879,"v":0.9},{"t":"MOSSE","f":893,"v":0.8},{"t":"MOSSE","f":908,"v":0.9},{"t":"MOSSE","f":912,"v":0.52},{"t":"MOSSE","f":922,"v":0.84},{"t":"MOSSE","f":929,"v":0.48},{"t":"MOSSE","f":936,"v":0.84},{"t":"MOSSE","f":946,"v":0.5},{"t":"MOSSE","f":956,"v":0.7},{"t":"MOSSE","f":963,"v":0.97},{"t":"MOSSE","f":1081,"v":1},{"t":"MOSSE","f":1086,"v":0.66},{"t":"MOSSE","f":1095,"v":0.9},{"t":"MOSSE","f":1110,"v":0.75},{"t":"MOSSE","f":1124,"v":0.9},{"t":"MOSSE","f":1134,"v":0.62},{"t":"MOSSE","f":1148,"v":0.84},{"t":"MOSSE","f":1158,"v":0.75},{"t":"MOSSE","f":1168,"v":0.66},{"t":"MOSSE","f":1177,"v":0.73},{"t":"MOSSE","f":1197,"v":0.8},{"t":"MOSSE","f":1211,"v":0.58},{"t":"MOSSE","f":1219,"v":0.45},{"t":"MOSSE","f":1225,"v":0.88},{"t":"MOSSE","f":1244,"v":0.9},{"t":"MOSSE","f":1254,"v":0.72},{"t":"MOSSE","f":1259,"v":0.92},{"t":"MOSSE","f":1264,"v":0.7},{"t":"MOSSE","f":1272,"v":0.62},{"t":"MOSSE","f":1278,"v":0.7},{"t":"MOSSE","f":1288,"v":0.8},{"t":"MOSSE","f":1293,"v":1},{"t":"MOSSE","f":1344,"v":1}
],
"trellis70":[
{"t":"Naive","f":0,"v":1},{"t":"Naive","f":1,"v":0.4},{"t":"Naive","f":26,"v":0.29},{"t":"Naive","f":44,"v":0.27},{"t":"Naive","f":80,"v":0.24},{"t":"Naive","f":115,"v":0.27},{"t":"Naive","f":126,"v":0.21},{"t":"Naive","f":140,"v":0.27},{"t":"Naive","f":148,"v":0.37},{"t":"Naive","f":158,"v":0.25},{"t":"Naive","f":173,"v":0.24},{"t":"Naive","f":187,"v":0.24},{"t":"Naive","f":207,"v":0.17},{"t":"Naive","f":223,"v":0.24},{"t":"Naive","f":237,"v":0.3},{"t":"Naive","f":244,"v":0.21},{"t":"Naive","f":266,"v":0.37},{"t":"Naive","f":271,"v":0.24},{"t":"Naive","f":284,"v":0.33},{"t":"Naive","f":291,"v":0.24},{"t":"Naive","f":307,"v":0.21},{"t":"Naive","f":311,"v":0.3},{"t":"Naive","f":327,"v":0.24},{"t":"Naive","f":341,"v":0.21},{"t":"Naive","f":352,"v":0.11},{"t":"Naive","f":366,"v":0.17},{"t":"Naive","f":377,"v":0.24},{"t":"Naive","f":381,"v":0.3},{"t":"Naive","f":388,"v":0.17},{"t":"Naive","f":414,"v":0.17},{"t":"Naive","f":427,"v":0.27},{"t":"Naive","f":438,"v":0.24},{"t":"Naive","f":452,"v":0.14},{"t":"Naive","f":470,"v":0.24},{"t":"Naive","f":481,"v":0.17},{"t":"Naive","f":488,"v":0.14},{"t":"Naive","f":494,"v":0.27},{"t":"Naive","f":496,"v":0.1},{"t":"Naive","f":500,"v":0.14},
{"t":"UMACE","f":0,"v":1},{"t":"UMACE","f":302,"v":1},{"t":"UMACE","f":304,"v":0.95},{"t":"UMACE","f":306,"v":1},{"t":"UMACE","f":316,"v":1},{"t":"UMACE","f":318,"v":0.89},{"t":"UMACE","f":320,"v":1},{"t":"UMACE","f":323,"v":1},{"t":"UMACE","f":325,"v":0.95},{"t":"UMACE","f":327,"v":1},{"t":"UMACE","f":338,"v":1},{"t":"UMACE","f":339,"v":0.69},{"t":"UMACE","f":342,"v":0.92},{"t":"UMACE","f":345,"v":0.64},{"t":"UMACE","f":348,"v":0.48},{"t":"UMACE","f":351,"v":0.61},{"t":"UMACE","f":356,"v":0.92},{"t":"UMACE","f":359,"v":0.77},{"t":"UMACE","f":364,"v":0.95},{"t":"UMACE","f":368,"v":0.84},{"t":"UMACE","f":371,"v":0.95},{"t":"UMACE","f":374,"v":0.58},{"t":"UMACE","f":377,"v":0.69},{"t":"UMACE","f":380,"v":0.89},{"t":"UMACE","f":384,"v":1},{"t":"UMACE","f":407,"v":1},{"t":"UMACE","f":409,"v":0.8},{"t":"UMACE","f":411,"v":1},{"t":"UMACE","f":478,"v":1},{"t":"UMACE","f":480,"v":0.89},{"t":"UMACE","f":482,"v":1},{"t":"UMACE","f":500,"v":1},
{"t":"ASEF","f":0,"v":0.98},{"t":"ASEF","f":1,"v":0.89},{"t":"ASEF","f":3,"v":1},{"t":"ASEF","f":122,"v":1},{"t":"ASEF","f":124,"v":0.83},{"t":"ASEF","f":126,"v":1},{"t":"ASEF","f":167,"v":1},{"t":"ASEF","f":169,"v":0.94},{"t":"ASEF","f":171,"v":0.86},{"t":"ASEF","f":173,"v":0.94},{"t":"ASEF","f":175,"v":1},{"t":"ASEF","f":192,"v":1},{"t":"ASEF","f":194,"v":0.89},{"t":"ASEF","f":196,"v":1},{"t":"ASEF","f":203,"v":1},{"t":"ASEF","f":205,"v":0.67},{"t":"ASEF","f":207,"v":0.95},{"t":"ASEF","f":209,"v":1},{"t":"ASEF","f":246,"v":1},{"t":"ASEF","f":248,"v":0.95},{"t":"ASEF","f":250,"v":1},{"t":"ASEF","f":275,"v":1},{"t":"ASEF","f":277,"v":0.95},{"t":"ASEF","f":279,"v":1},{"t":"ASEF","f":290,"v":0.92},{"t":"ASEF","f":295,"v":0.86},{"t":"ASEF","f":300,"v":0.92},{"t":"ASEF","f":304,"v":0.8},{"t":"ASEF","f":307,"v":0.86},{"t":"ASEF","f":311,"v":0.7},{"t":"ASEF","f":314,"v":0.86},{"t":"ASEF","f":318,"v":0.58},{"t":"ASEF","f":321,"v":0.86},{"t":"ASEF","f":325,"v":0.73},{"t":"ASEF","f":328,"v":0.86},{"t":"ASEF","f":334,"v":0.78},{"t":"ASEF","f":338,"v":0.63},{"t":"ASEF","f":341,"v":0.47},{"t":"ASEF","f":346,"v":0.39},{"t":"ASEF","f":352,"v":0.47},{"t":"ASEF","f":357,"v":0.63},{"t":"ASEF","f":363,"v":0.7},{"t":"ASEF","f":366,"v":0.86},{"t":"ASEF","f":370,"v":0.94},{"t":"ASEF","f":373,"v":0.47},{"t":"ASEF","f":377,"v":0.63},{"t":"ASEF","f":382,"v":0.78},{"t":"ASEF","f":388,"v":0.94},{"t":"ASEF","f":392,"v":1},{"t":"ASEF","f":407,"v":1},{"t":"ASEF","f":409,"v":0.58},{"t":"ASEF","f":411,"v":1},{"t":"ASEF","f":430,"v":1},{"t":"ASEF","f":432,"v":0.77},{"t":"ASEF","f":434,"v":1},{"t":"ASEF","f":452,"v":1},{"t":"ASEF","f":454,"v":0.94},{"t":"ASEF","f":456,"v":1},{"t":"ASEF","f":477,"v":1},{"t":"ASEF","f":479,"v":0.67},{"t":"ASEF","f":481,"v":1},{"t":"ASEF","f":500,"v":0.98},
{"t":"MOSSE","f":0,"v":1},{"t":"MOSSE","f":122,"v":1},{"t":"MOSSE","f":124,"v":0.92},{"t":"MOSSE","f":126,"v":1},{"t":"MOSSE","f":167,"v":1},{"t":"MOSSE","f":169,"v":0.94},{"t":"MOSSE","f":171,"v":1},{"t":"MOSSE","f":192,"v":1},{"t":"MOSSE","f":194,"v":0.92},{"t":"MOSSE","f":196,"v":1},{"t":"MOSSE","f":203,"v":1},{"t":"MOSSE","f":205,"v":0.8},{"t":"MOSSE","f":207,"v":1},{"t":"MOSSE","f":246,"v":1},{"t":"MOSSE","f":248,"v":0.94},{"t":"MOSSE","f":250,"v":1},{"t":"MOSSE","f":275,"v":1},{"t":"MOSSE","f":277,"v":0.9},{"t":"MOSSE","f":279,"v":0.95},{"t":"MOSSE","f":290,"v":0.94},{"t":"MOSSE","f":295,"v":0.88},{"t":"MOSSE","f":300,"v":0.94},{"t":"MOSSE","f":304,"v":0.8},{"t":"MOSSE","f":307,"v":0.9},{"t":"MOSSE","f":311,"v":0.72},{"t":"MOSSE","f":314,"v":0.88},{"t":"MOSSE","f":318,"v":0.64},{"t":"MOSSE","f":321,"v":0.86},{"t":"MOSSE","f":325,"v":0.75},{"t":"MOSSE","f":328,"v":0.88},{"t":"MOSSE","f":334,"v":0.8},{"t":"MOSSE","f":338,"v":0.7},{"t":"MOSSE","f":341,"v":0.52},{"t":"MOSSE","f":346,"v":0.42},{"t":"MOSSE","f":352,"v":0.5},{"t":"MOSSE","f":357,"v":0.62},{"t":"MOSSE","f":363,"v":0.72},{"t":"MOSSE","f":366,"v":0.88},{"t":"MOSSE","f":370,"v":0.95},{"t":"MOSSE","f":373,"v":0.45},{"t":"MOSSE","f":377,"v":0.62},{"t":"MOSSE","f":382,"v":0.8},{"t":"MOSSE","f":388,"v":0.95},{"t":"MOSSE","f":392,"v":1},{"t":"MOSSE","f":407,"v":1},{"t":"MOSSE","f":409,"v":0.62},{"t":"MOSSE","f":411,"v":1},{"t":"MOSSE","f":430,"v":1},{"t":"MOSSE","f":432,"v":0.84},{"t":"MOSSE","f":434,"v":1},{"t":"MOSSE","f":477,"v":1},{"t":"MOSSE","f":479,"v":0.77},{"t":"MOSSE","f":481,"v":1},{"t":"MOSSE","f":500,"v":1}
]
},
"vconcat":[
{"title":{"text":"car4"},"width":500,"height":111,"resolve":{"axis":{"x":"independent"}},"layer":[
{"data":{"name":"bands"},"transform":[{"filter":"datum.s==='car4'"}],"mark":{"type":"rect"},"encoding":{
"x":{"field":"a","type":"quantitative","scale":{"domain":[-26.32,684.32],"nice":false,"zero":false},"axis":{"orient":"bottom","title":null,"values":[0,100,200,300,400,500,600],"tickSize":7,"labelPadding":2,"labelFontSize":13.5}},
"x2":{"field":"b"},
"y":{"field":"t","type":"nominal","scale":{"type":"band","domain":["Naive","UMACE","ASEF","MOSSE"],"paddingInner":0.177,"paddingOuter":0.243},"axis":{"title":null,"ticks":false,"labelPadding":10,"labelFontSize":13}},
"color":{"field":"c","type":"nominal","scale":{"domain":["good","fair","fail"],"range":["#00ff00","#ffff00","#ff0000"]},"legend":null}}},
{"data":{"name":"car4"},"mark":{"type":"line","color":"black","strokeWidth":1.9},"encoding":{
"x":{"field":"f","type":"quantitative","scale":{"domain":[-26.32,684.32],"nice":false,"zero":false},"axis":{"orient":"top","title":null,"labels":false,"ticks":false,"tickSize":0,"labelPadding":0,"maxExtent":0,"minExtent":0}},
"y":{"field":"t","type":"nominal","scale":{"type":"band","domain":["Naive","UMACE","ASEF","MOSSE"],"paddingInner":0.177,"paddingOuter":0.243},"axis":{"title":null,"ticks":false,"labelPadding":10,"labelFontSize":13}},
"yOffset":{"field":"v","type":"quantitative","scale":{"domain":[0,1],"reverse":true}},
"order":{"field":"f","type":"quantitative"},
"detail":{"field":"t"}}}]},
{"title":{"text":"car11"},"width":500,"height":111,"resolve":{"axis":{"x":"independent"}},"layer":[
{"data":{"name":"bands"},"transform":[{"filter":"datum.s==='car11'"}],"mark":{"type":"rect"},"encoding":{
"x":{"field":"a","type":"quantitative","scale":{"domain":[-15.68,407.68],"nice":false,"zero":false},"axis":{"orient":"bottom","title":null,"values":[0,100,200,300,400],"tickSize":7,"labelPadding":2,"labelFontSize":13.5}},
"x2":{"field":"b"},
"y":{"field":"t","type":"nominal","scale":{"type":"band","domain":["Naive","UMACE","ASEF","MOSSE"],"paddingInner":0.177,"paddingOuter":0.243},"axis":{"title":null,"ticks":false,"labelPadding":10,"labelFontSize":13}},
"color":{"field":"c","type":"nominal","scale":{"domain":["good","fair","fail"],"range":["#00ff00","#ffff00","#ff0000"]},"legend":null}}},
{"data":{"name":"car11"},"mark":{"type":"line","color":"black","strokeWidth":1.9},"encoding":{
"x":{"field":"f","type":"quantitative","scale":{"domain":[-15.68,407.68],"nice":false,"zero":false},"axis":{"orient":"top","title":null,"labels":false,"ticks":false,"tickSize":0,"labelPadding":0,"maxExtent":0,"minExtent":0}},
"y":{"field":"t","type":"nominal","scale":{"type":"band","domain":["Naive","UMACE","ASEF","MOSSE"],"paddingInner":0.177,"paddingOuter":0.243},"axis":{"title":null,"ticks":false,"labelPadding":10,"labelFontSize":13}},
"yOffset":{"field":"v","type":"quantitative","scale":{"domain":[0,1],"reverse":true}},
"order":{"field":"f","type":"quantitative"},
"detail":{"field":"t"}}}]},
{"title":{"text":"davidin300"},"width":500,"height":111,"resolve":{"axis":{"x":"independent"}},"layer":[
{"data":{"name":"bands"},"transform":[{"filter":"datum.s==='davidin300'"}],"mark":{"type":"rect"},"encoding":{
"x":{"field":"a","type":"quantitative","scale":{"domain":[-18.44,479.44],"nice":false,"zero":false},"axis":{"orient":"bottom","title":null,"values":[0,100,200,300,400],"tickSize":7,"labelPadding":2,"labelFontSize":13.5}},
"x2":{"field":"b"},
"y":{"field":"t","type":"nominal","scale":{"type":"band","domain":["Naive","UMACE","ASEF","MOSSE"],"paddingInner":0.177,"paddingOuter":0.243},"axis":{"title":null,"ticks":false,"labelPadding":10,"labelFontSize":13}},
"color":{"field":"c","type":"nominal","scale":{"domain":["good","fair","fail"],"range":["#00ff00","#ffff00","#ff0000"]},"legend":null}}},
{"data":{"name":"davidin300"},"mark":{"type":"line","color":"black","strokeWidth":1.9},"encoding":{
"x":{"field":"f","type":"quantitative","scale":{"domain":[-18.44,479.44],"nice":false,"zero":false},"axis":{"orient":"top","title":null,"labels":false,"ticks":false,"tickSize":0,"labelPadding":0,"maxExtent":0,"minExtent":0}},
"y":{"field":"t","type":"nominal","scale":{"type":"band","domain":["Naive","UMACE","ASEF","MOSSE"],"paddingInner":0.177,"paddingOuter":0.243},"axis":{"title":null,"ticks":false,"labelPadding":10,"labelFontSize":13}},
"yOffset":{"field":"v","type":"quantitative","scale":{"domain":[0,1],"reverse":true}},
"order":{"field":"f","type":"quantitative"},
"detail":{"field":"t"}}}]},
{"title":{"text":"dudek"},"width":500,"height":111,"resolve":{"axis":{"x":"independent"}},"layer":[
{"data":{"name":"bands"},"transform":[{"filter":"datum.s==='dudek'"}],"mark":{"type":"rect"},"encoding":{
"x":{"field":"a","type":"quantitative","scale":{"domain":[-22.88,594.88],"nice":false,"zero":false},"axis":{"orient":"bottom","title":null,"values":[0,100,200,300,400,500],"tickSize":7,"labelPadding":2,"labelFontSize":13.5}},
"x2":{"field":"b"},
"y":{"field":"t","type":"nominal","scale":{"type":"band","domain":["Naive","UMACE","ASEF","MOSSE"],"paddingInner":0.177,"paddingOuter":0.243},"axis":{"title":null,"ticks":false,"labelPadding":10,"labelFontSize":13}},
"color":{"field":"c","type":"nominal","scale":{"domain":["good","fair","fail"],"range":["#00ff00","#ffff00","#ff0000"]},"legend":null}}},
{"data":{"name":"dudek"},"mark":{"type":"line","color":"black","strokeWidth":1.9},"encoding":{
"x":{"field":"f","type":"quantitative","scale":{"domain":[-22.88,594.88],"nice":false,"zero":false},"axis":{"orient":"top","title":null,"labels":false,"ticks":false,"tickSize":0,"labelPadding":0,"maxExtent":0,"minExtent":0}},
"y":{"field":"t","type":"nominal","scale":{"type":"band","domain":["Naive","UMACE","ASEF","MOSSE"],"paddingInner":0.177,"paddingOuter":0.243},"axis":{"title":null,"ticks":false,"labelPadding":10,"labelFontSize":13}},
"yOffset":{"field":"v","type":"quantitative","scale":{"domain":[0,1],"reverse":true}},
"order":{"field":"f","type":"quantitative"},
"detail":{"field":"t"}}}]},
{"title":{"text":"fish"},"width":500,"height":111,"resolve":{"axis":{"x":"independent"}},"layer":[
{"data":{"name":"bands"},"transform":[{"filter":"datum.s==='fish'"}],"mark":{"type":"rect"},"encoding":{
"x":{"field":"a","type":"quantitative","scale":{"domain":[-19,494],"nice":false,"zero":false},"axis":{"orient":"bottom","title":null,"values":[0,100,200,300,400],"tickSize":7,"labelPadding":2,"labelFontSize":13.5}},
"x2":{"field":"b"},
"y":{"field":"t","type":"nominal","scale":{"type":"band","domain":["Naive","UMACE","ASEF","MOSSE"],"paddingInner":0.177,"paddingOuter":0.243},"axis":{"title":null,"ticks":false,"labelPadding":10,"labelFontSize":13}},
"color":{"field":"c","type":"nominal","scale":{"domain":["good","fair","fail"],"range":["#00ff00","#ffff00","#ff0000"]},"legend":null}}},
{"data":{"name":"fish"},"mark":{"type":"line","color":"black","strokeWidth":1.9},"encoding":{
"x":{"field":"f","type":"quantitative","scale":{"domain":[-19,494],"nice":false,"zero":false},"axis":{"orient":"top","title":null,"labels":false,"ticks":false,"tickSize":0,"labelPadding":0,"maxExtent":0,"minExtent":0}},
"y":{"field":"t","type":"nominal","scale":{"type":"band","domain":["Naive","UMACE","ASEF","MOSSE"],"paddingInner":0.177,"paddingOuter":0.243},"axis":{"title":null,"ticks":false,"labelPadding":10,"labelFontSize":13}},
"yOffset":{"field":"v","type":"quantitative","scale":{"domain":[0,1],"reverse":true}},
"order":{"field":"f","type":"quantitative"},
"detail":{"field":"t"}}}]},
{"title":{"text":"sylv"},"width":500,"height":111,"resolve":{"axis":{"x":"independent"}},"layer":[
{"data":{"name":"bands"},"transform":[{"filter":"datum.s==='sylv'"}],"mark":{"type":"rect"},"encoding":{
"x":{"field":"a","type":"quantitative","scale":{"domain":[-53.76,1397.76],"nice":false,"zero":false},"axis":{"orient":"bottom","title":null,"values":[0,200,400,600,800,1000,1200],"tickSize":7,"labelPadding":2,"labelFontSize":13.5}},
"x2":{"field":"b"},
"y":{"field":"t","type":"nominal","scale":{"type":"band","domain":["Naive","UMACE","ASEF","MOSSE"],"paddingInner":0.177,"paddingOuter":0.243},"axis":{"title":null,"ticks":false,"labelPadding":10,"labelFontSize":13}},
"color":{"field":"c","type":"nominal","scale":{"domain":["good","fair","fail"],"range":["#00ff00","#ffff00","#ff0000"]},"legend":null}}},
{"data":{"name":"sylv"},"mark":{"type":"line","color":"black","strokeWidth":1.9},"encoding":{
"x":{"field":"f","type":"quantitative","scale":{"domain":[-53.76,1397.76],"nice":false,"zero":false},"axis":{"orient":"top","title":null,"labels":false,"ticks":false,"tickSize":0,"labelPadding":0,"maxExtent":0,"minExtent":0}},
"y":{"field":"t","type":"nominal","scale":{"type":"band","domain":["Naive","UMACE","ASEF","MOSSE"],"paddingInner":0.177,"paddingOuter":0.243},"axis":{"title":null,"ticks":false,"labelPadding":10,"labelFontSize":13}},
"yOffset":{"field":"v","type":"quantitative","scale":{"domain":[0,1],"reverse":true}},
"order":{"field":"f","type":"quantitative"},
"detail":{"field":"t"}}}]},
{"title":{"text":"trellis70"},"width":500,"height":111,"resolve":{"axis":{"x":"independent"}},"layer":[
{"data":{"name":"bands"},"transform":[{"filter":"datum.s==='trellis70'"}],"mark":{"type":"rect"},"encoding":{
"x":{"field":"a","type":"quantitative","scale":{"domain":[-20,520],"nice":false,"zero":false},"axis":{"orient":"bottom","title":null,"values":[0,100,200,300,400,500],"tickSize":7,"labelPadding":2,"labelFontSize":13.5}},
"x2":{"field":"b"},
"y":{"field":"t","type":"nominal","scale":{"type":"band","domain":["Naive","UMACE","ASEF","MOSSE"],"paddingInner":0.177,"paddingOuter":0.243},"axis":{"title":null,"ticks":false,"labelPadding":10,"labelFontSize":13}},
"color":{"field":"c","type":"nominal","scale":{"domain":["good","fair","fail"],"range":["#00ff00","#ffff00","#ff0000"]},"legend":null}}},
{"data":{"name":"trellis70"},"mark":{"type":"line","color":"black","strokeWidth":1.9},"encoding":{
"x":{"field":"f","type":"quantitative","scale":{"domain":[-20,520],"nice":false,"zero":false},"axis":{"orient":"top","title":null,"labels":false,"ticks":false,"tickSize":0,"labelPadding":0,"maxExtent":0,"minExtent":0}},
"y":{"field":"t","type":"nominal","scale":{"type":"band","domain":["Naive","UMACE","ASEF","MOSSE"],"paddingInner":0.177,"paddingOuter":0.243},"axis":{"title":null,"ticks":false,"labelPadding":10,"labelFontSize":13}},
"yOffset":{"field":"v","type":"quantitative","scale":{"domain":[0,1],"reverse":true}},
"order":{"field":"f","type":"quantitative"},
"detail":{"field":"t"}}}]}
]
}
